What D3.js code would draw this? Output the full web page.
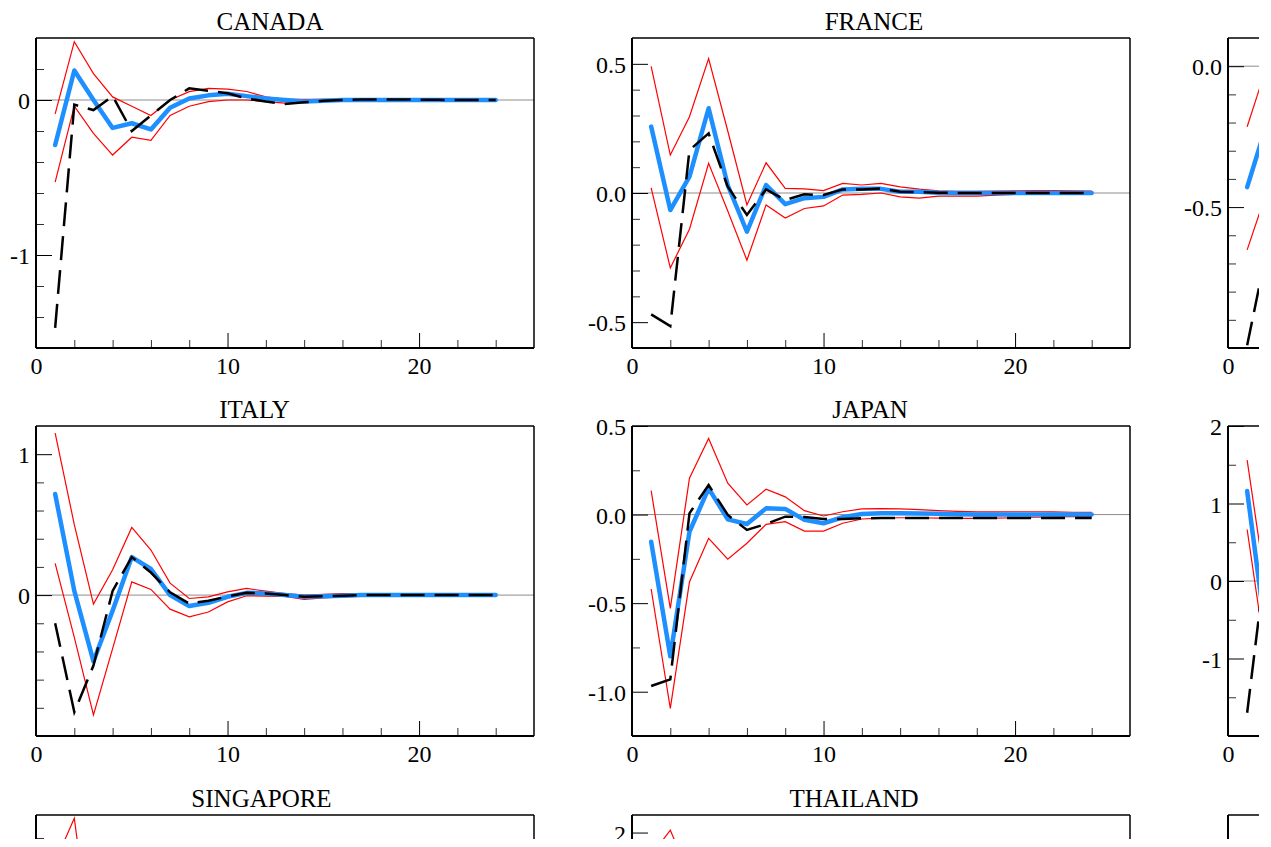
<!DOCTYPE html>
<html>
<head>
<meta charset="utf-8">
<script src="https://cdn.jsdelivr.net/npm/d3@7"></script>
<style>
  body { margin: 0; background: #fff; }
  svg { display: block; font-family: "Liberation Serif", "Times New Roman", serif; }
  .titulo { font-size: 25px; text-anchor: middle; fill: #000; }
  .axis text { font-family: "Liberation Serif", "Times New Roman", serif; font-size: 24px; fill: #000; }
</style>
</head>
<body>
<div id="grafico"></div>
<script>
//*********** Datos ********************/

// Horizonte (periodos)
const horizon = [1, 2, 3, 4, 5, 6, 7, 8, 9, 10, 11, 12, 13, 14, 15, 16, 17, 18, 19, 20, 21, 22, 23, 24]

// CANADA
const canadaIrf = [-0.29, 0.19, 0.0, -0.18, -0.15, -0.19, -0.05, 0.01, 0.03, 0.04, 0.025, 0.01, 0.0, -0.01, -0.005, 0.0, 0.0, 0.0, 0.0, 0.0, 0.0, 0.0, 0.0, 0.0]
const canadaUpper = [-0.09, 0.376, 0.17, 0.02, -0.04, -0.1, 0.0, 0.054, 0.075, 0.07, 0.055, 0.02, 0.005, 0.004, 0.004, 0.003, 0.003, 0.003, 0.002, 0.002, 0.002, 0.001, 0.001, 0.001]
const canadaLower = [-0.53, -0.04, -0.215, -0.355, -0.24, -0.26, -0.1, -0.04, -0.01, 0.0, 0.0, -0.01, -0.02, -0.015, -0.01, -0.006, -0.004, -0.003, -0.002, -0.002, -0.001, -0.001, -0.001, -0.001]
const canadaAlt = [-1.47, -0.03, -0.065, 0.025, -0.2, -0.1, 0.0, 0.075, 0.06, 0.043, 0.01, -0.01, -0.025, -0.015, -0.005, 0.0, 0.003, 0.004, 0.003, 0.002, 0.001, 0.0, 0.0, 0.0]

// FRANCE
const franceIrf = [0.257, -0.066, 0.063, 0.328, 0.03, -0.15, 0.031, -0.043, -0.02, -0.015, 0.014, 0.016, 0.016, 0.005, 0.005, 0.001, 0.0, 0.0, 0.0, 0.0, 0.0, 0.0, 0.0, 0.0]
const franceUpper = [0.49, 0.147, 0.295, 0.52, 0.24, -0.046, 0.117, 0.018, 0.016, 0.009, 0.037, 0.031, 0.037, 0.024, 0.015, 0.008, 0.006, 0.006, 0.007, 0.008, 0.009, 0.009, 0.008, 0.007]
const franceLower = [0.02, -0.29, -0.14, 0.115, -0.07, -0.26, -0.046, -0.097, -0.06, -0.05, -0.008, -0.005, 0.0, -0.015, -0.02, -0.012, -0.012, -0.012, -0.008, -0.005, -0.003, -0.003, -0.004, -0.004]
const franceAlt = [-0.47, -0.515, 0.166, 0.231, 0.024, -0.085, 0.014, -0.027, -0.005, -0.008, 0.014, 0.014, 0.018, 0.005, 0.004, 0.001, 0.0, 0.0, 0.0, 0.0, 0.0, 0.0, 0.0, 0.0]

// Tercer panel de la fila 1 (solo se ve el inicio)
const panel3Irf = [-0.429, -0.21]
const panel3Upper = [-0.215, -0.005]
const panel3Lower = [-0.652, -0.45]
const panel3Alt = [-0.99, -0.66]

// ITALY
const italyIrf = [0.717, 0.03, -0.47, -0.11, 0.27, 0.185, 0.0, -0.078, -0.055, -0.012, 0.016, 0.012, 0.0, -0.012, -0.008, -0.004, 0.0, 0.0, 0.0, 0.0, 0.0, 0.0, 0.0, 0.0]
const italyUpper = [1.15, 0.5, -0.064, 0.18, 0.48, 0.32, 0.085, -0.024, -0.012, 0.023, 0.047, 0.028, 0.01, 0.0, 0.005, 0.01, 0.01, 0.008, 0.006, 0.005, 0.004, 0.003, 0.003, 0.002]
const italyLower = [0.225, -0.3, -0.85, -0.38, 0.094, 0.04, -0.1, -0.154, -0.12, -0.048, -0.005, -0.007, -0.01, -0.03, -0.02, -0.012, -0.008, -0.006, -0.005, -0.004, -0.003, -0.003, -0.002, -0.002]
const italyAlt = [-0.2, -0.83, -0.5, 0.03, 0.27, 0.16, 0.02, -0.06, -0.04, -0.01, 0.016, 0.012, 0.0, -0.012, -0.008, -0.004, 0.0, 0.0, 0.0, 0.0, 0.0, 0.0, 0.0, 0.0]

// JAPAN
const japanIrf = [-0.153, -0.8, -0.097, 0.148, -0.027, -0.053, 0.035, 0.032, -0.03, -0.049, -0.015, 0.003, 0.008, 0.008, 0.006, 0.004, 0.002, 0.0, 0.0, 0.0, 0.0, 0.0, 0.0, 0.0]
const japanUpper = [0.135, -0.53, 0.205, 0.43, 0.177, 0.054, 0.143, 0.1, 0.022, -0.008, 0.016, 0.032, 0.034, 0.032, 0.028, 0.022, 0.018, 0.015, 0.015, 0.016, 0.016, 0.015, 0.013, 0.012]
const japanLower = [-0.42, -1.094, -0.38, -0.134, -0.252, -0.162, -0.055, -0.04, -0.093, -0.093, -0.049, -0.025, -0.02, -0.018, -0.018, -0.02, -0.022, -0.022, -0.02, -0.018, -0.015, -0.013, -0.012, -0.012]
const japanAlt = [-0.968, -0.93, 0.007, 0.167, -0.002, -0.087, -0.053, -0.012, -0.014, -0.025, -0.025, -0.021, -0.02, -0.02, -0.02, -0.02, -0.02, -0.02, -0.02, -0.02, -0.02, -0.02, -0.02, -0.02]

// Tercer panel de la fila 2 (solo se ve el inicio)
const panel6Irf = [1.16, -0.73]
const panel6Upper = [1.56, -0.12]
const panel6Lower = [0.665, -1.03]
const panel6Alt = [-1.7, 0.32]

// SINGAPORE y THAILAND (solo se ve el borde superior)
const singaporeUpper = [1.21, 1.74, -0.03]
const thailandUpper = [1.61, 2.04, 1.27]

// Marcas del eje X
const xMajor = [0, 10, 20]
const xMinor = [2, 4, 6, 8, 12, 14, 16, 18, 22, 24]

//*********** Configuracion de paneles ********************/
const panels = [
  { title: "CANADA", col: 0, row: 0, titleX: 270, domain: [-1.6, 0.4], major: [-1, 0], minorStep: 0.2, fmt: "d",
    irf: canadaIrf, upper: canadaUpper, lower: canadaLower, alt: canadaAlt },
  { title: "FRANCE", col: 1, row: 0, titleX: 874, domain: [-0.6, 0.6], major: [-0.5, 0, 0.5], minorStep: 0.1, fmt: ".1f",
    irf: franceIrf, upper: franceUpper, lower: franceLower, alt: franceAlt },
  { title: "", col: 2, row: 0, titleX: 1477, domain: [-1.0, 0.1], major: [-0.5, 0], minorStep: 0.1, fmt: ".1f",
    irf: panel3Irf, upper: panel3Upper, lower: panel3Lower, alt: panel3Alt },
  { title: "ITALY", col: 0, row: 1, titleX: 254.5, domain: [-1.0, 1.2], major: [0, 1], minorStep: 0.2, fmt: "d",
    irf: italyIrf, upper: italyUpper, lower: italyLower, alt: italyAlt },
  { title: "JAPAN", col: 1, row: 1, titleX: 870, domain: [-1.25, 0.5], major: [-1, -0.5, 0, 0.5], minorStep: 0.25, fmt: ".1f",
    irf: japanIrf, upper: japanUpper, lower: japanLower, alt: japanAlt },
  { title: "", col: 2, row: 1, titleX: 1477, domain: [-2, 2], major: [-1, 0, 1, 2], minorStep: 0.5, fmt: "d",
    irf: panel6Irf, upper: panel6Upper, lower: panel6Lower, alt: panel6Alt },
  { title: "SINGAPORE", col: 0, row: 2, titleX: 261.5, domain: [-2, 1.78], major: [-2, -1, 0, 1], minorStep: 0.5, fmt: "d",
    irf: [], upper: singaporeUpper, lower: [], alt: [] },
  { title: "THAILAND", col: 1, row: 2, titleX: 854, domain: [-3, 2.3], major: [-3, -2, -1, 0, 1, 2], minorStep: 0.5, fmt: "d",
    irf: [], upper: thailandUpper, lower: [], alt: [] },
  { title: "", col: 2, row: 2, titleX: 1477, domain: [-1, 1], major: [0], minorStep: 0.5, fmt: "d",
    irf: [], upper: [], lower: [], alt: [] },
]

//*********** Dibujo ********************/
const anchoTotal = 1271
const altoTotal = 847
const ancho = 498
const alto = 310
const colX = [36, 632, 1228]
const filaY = [38, 426, 815]
// La figura original esta recortada en este punto
const recorteX = 1259
const recorteY = 839

const svg = d3.select("#grafico")
  .append("svg")
  .attr("width", anchoTotal)
  .attr("height", altoTotal)

svg.append("rect").attr("width", anchoTotal).attr("height", altoTotal).attr("fill", "white")

svg.append("defs")
  .append("clipPath")
  .attr("id", "recorte")
  .append("rect")
  .attr("width", recorteX)
  .attr("height", recorteY)

const fig = svg.append("g").attr("clip-path", "url(#recorte)")

const x = d3.scaleLinear().domain([0, 26]).range([0, ancho])

// Convierte un arreglo de valores en puntos (t, v)
const toPoints = (arr) => arr.map((v, i) => ({ t: horizon[i], v }))

panels.forEach((p) => {
  const left = colX[p.col]
  const top = filaY[p.row]
  const y = d3.scaleLinear().domain(p.domain).range([alto, 0])
  const fmt = (d) => d3.format(p.fmt)(d).replace("\u2212", "-")

  // Titulo
  if (p.title) {
    fig.append("text")
      .attr("class", "titulo")
      .attr("x", p.titleX)
      .attr("y", top - 8.5)
      .text(p.title)
  }

  const g = fig.append("g").attr("transform", `translate(${left}, ${top})`)

  // Linea del cero
  g.append("line")
    .attr("x1", 0)
    .attr("x2", ancho)
    .attr("y1", y(0))
    .attr("y2", y(0))
    .attr("stroke", "#8c8c8c")
    .attr("stroke-width", 1)

  // Marcas menores del eje Y
  const [lo, hi] = p.domain
  const minorY = d3.range(Math.ceil(lo / p.minorStep - 1e-6), Math.floor(hi / p.minorStep + 1e-6) + 1)
    .map((k) => +(k * p.minorStep).toFixed(4))
    .filter((v) => v > lo + 1e-6 && v < hi - 1e-6 && !p.major.some((m) => Math.abs(m - v) < 1e-6))

  g.append("g")
    .attr("class", "axis")
    .call(d3.axisLeft(y).tickValues(minorY).tickSizeInner(-8).tickSizeOuter(0).tickFormat(""))
    .call((a) => a.select(".domain").remove())
    .call((a) => a.selectAll(".tick line").attr("stroke", "#333"))

  // Marcas mayores del eje Y con etiquetas (solo las que quedan dentro del recorte)
  const majorY = p.major.filter((v) => top + y(v) < recorteY - 4)
  g.append("g")
    .attr("class", "axis")
    .call(d3.axisLeft(y).tickValues(majorY).tickSizeInner(-16).tickSizeOuter(0).tickPadding(6).tickFormat(fmt))
    .call((a) => a.select(".domain").remove())
    .call((a) => a.selectAll(".tick line").attr("stroke", "#000"))
    .call((a) => a.selectAll(".tick text").attr("dy", "0.36em"))

  // Eje X: marcas menores y mayores (solo si el eje queda dentro del recorte)
  if (top + alto < recorteY) {
    g.append("g")
      .attr("class", "axis")
      .attr("transform", `translate(0, ${alto})`)
      .call(d3.axisBottom(x).tickValues(xMinor.filter((v) => left + x(v) < recorteX)).tickSizeInner(-8).tickSizeOuter(0).tickFormat(""))
      .call((a) => a.select(".domain").remove())
      .call((a) => a.selectAll(".tick line").attr("stroke", "#333"))

    g.append("g")
      .attr("class", "axis")
      .attr("transform", `translate(0, ${alto})`)
      .call(d3.axisBottom(x).tickValues(xMajor.filter((v) => left + x(v) < recorteX - 8)).tickSizeInner(-15).tickSizeOuter(0).tickPadding(9).tickFormat(d3.format("d")))
      .call((a) => a.select(".domain").remove())
      .call((a) => a.selectAll(".tick line").attr("stroke", "#000"))
  }

  const line = d3.line().x((d) => x(d.t)).y((d) => y(d.v))

  // Bandas (rojo)
  ;[p.upper, p.lower].forEach((arr) => {
    if (!arr.length) return
    g.append("path")
      .attr("d", line(toPoints(arr)))
      .attr("fill", "none")
      .attr("stroke", "#ff0000")
      .attr("stroke-width", 1.2)
  })

  // Respuesta estimada (azul)
  if (p.irf.length) {
    g.append("path")
      .attr("d", line(toPoints(p.irf)))
      .attr("fill", "none")
      .attr("stroke", "#1e8fff")
      .attr("stroke-width", 4.5)
      .attr("stroke-linejoin", "round")
      .attr("stroke-linecap", "round")
  }

  // Respuesta alternativa (negro discontinuo)
  if (p.alt.length) {
    g.append("path")
      .attr("d", line(toPoints(p.alt)))
      .attr("fill", "none")
      .attr("stroke", "#000")
      .attr("stroke-width", 2.5)
      .attr("stroke-dasharray", "24,10")
  }

  // Marco del panel
  g.append("line").attr("x1", 0).attr("x2", 0).attr("y1", 0).attr("y2", alto).attr("stroke", "#000").attr("stroke-width", 2)
  g.append("line").attr("x1", 0).attr("x2", ancho).attr("y1", alto).attr("y2", alto).attr("stroke", "#000").attr("stroke-width", 2)
  g.append("line").attr("x1", 0).attr("x2", ancho).attr("y1", 0).attr("y2", 0).attr("stroke", "#000").attr("stroke-width", 1.5)
  g.append("line").attr("x1", ancho).attr("x2", ancho).attr("y1", 0).attr("y2", alto).attr("stroke", "#000").attr("stroke-width", 1.5)
})
</script>
</body>
</html>
